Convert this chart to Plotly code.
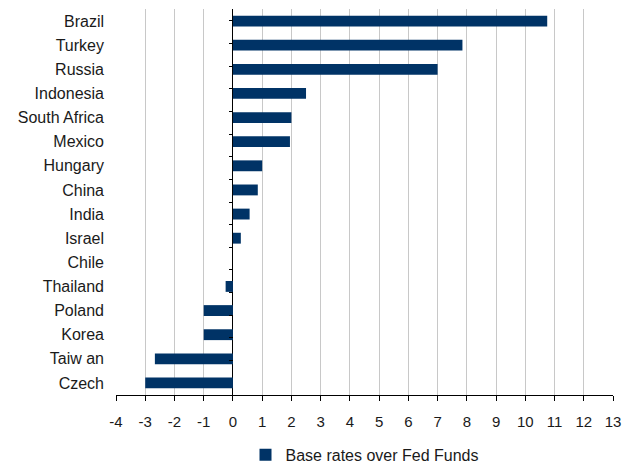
import plotly.graph_objects as go

countries = ["Brazil", "Turkey", "Russia", "Indonesia", "South Africa", "Mexico",
             "Hungary", "China", "India", "Israel", "Chile", "Thailand",
             "Poland", "Korea", "Taiw an", "Czech"]
spread = [10.75, 7.85, 7.0, 2.5, 2.0, 1.95, 1.0, 0.85, 0.57, 0.27, 0.0, -0.25,
          -1.0, -1.0, -2.67, -3.0]
x_ticks = list(range(-4, 14))

NAVY = "#003366"
FONT = "Liberation Sans"
TEXT = "#1a1a1a"

fig = go.Figure()
fig.add_trace(go.Bar(
    x=spread, y=countries, orientation="h",
    marker=dict(color=NAVY, line=dict(width=0)),
    name="Base rates over Fed Funds", showlegend=True,
))
# helper trace carrying the category axis drawn at x = 0
fig.add_trace(go.Scatter(
    x=[0] * len(countries), y=countries, yaxis="y2", mode="markers",
    marker=dict(opacity=0), showlegend=False, hoverinfo="skip",
))

x_min, x_max = x_ticks[0], x_ticks[-1]
fig.update_layout(
    width=634, height=463,
    margin=dict(l=116, r=21, t=9, b=68, autoexpand=False),
    paper_bgcolor="white", plot_bgcolor="white",
    bargap=0.55,
    font=dict(family=FONT, size=16, color=TEXT),
    xaxis=dict(
        range=[x_min, x_max], tickvals=x_ticks, ticktext=[str(v) for v in x_ticks],
        showgrid=True, gridcolor="#c8c8c8", gridwidth=1,
        zeroline=True, zerolinecolor="#000000", zerolinewidth=1,
        showline=True, linecolor="#000000", linewidth=1,
        ticks="outside", ticklen=5, tickcolor="#000000",
        ticklabelstandoff=8,
        tickfont=dict(family=FONT, size=15, color=TEXT),
        fixedrange=True,
    ),
    yaxis=dict(
        categoryorder="array", categoryarray=countries, autorange="reversed",
        showgrid=False, showline=False, ticks="",
        ticklabelstandoff=11,
        tickfont=dict(family=FONT, size=16, color=TEXT),
    ),
    yaxis2=dict(
        overlaying="y", anchor="free", position=(0 - x_min) / (x_max - x_min),
        categoryorder="array", categoryarray=countries, autorange="reversed",
        showticklabels=False, showgrid=False, showline=False,
        ticks="outside", ticklen=4, tickcolor="#000000", tickson="boundaries",
    ),
    legend=dict(
        orientation="h", x=0.5, xanchor="center", y=-0.155, yanchor="middle",
        font=dict(family=FONT, size=16, color=TEXT),
        itemwidth=30,
    ),
)

fig.write_html("out.html")
